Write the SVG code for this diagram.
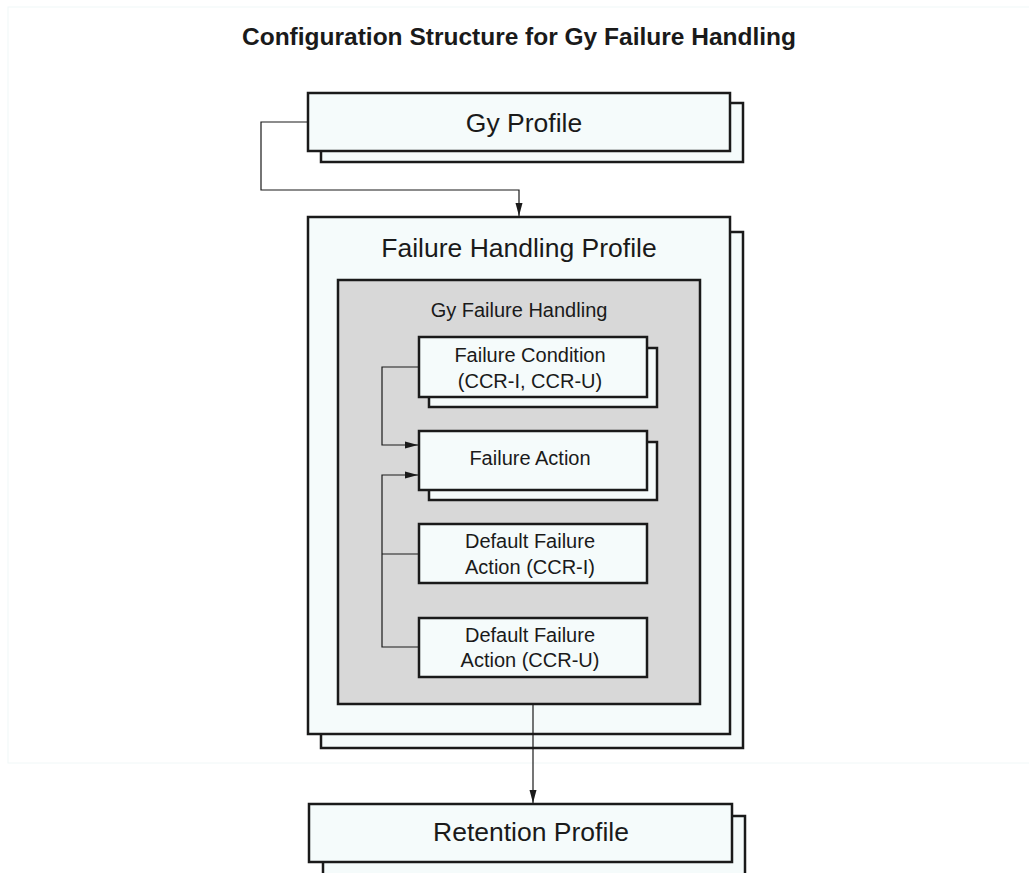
<svg xmlns="http://www.w3.org/2000/svg" width="1029" height="873" viewBox="0 0 1029 873">
<style>
.box{fill:#f5fbfb;stroke:#1a1a1a;stroke-width:2.5}
.gray{fill:#d8d8d8;stroke:#1a1a1a;stroke-width:2.5}
.t{font-family:"Liberation Sans",Arial,sans-serif;fill:#1a1a1a;text-anchor:middle}
.big{font-size:26.5px}
.small{font-size:20px}
.conn{fill:none;stroke:#1a1a1a;stroke-width:1.2}
</style>
<defs>
<marker id="arr" viewBox="0 0 13 8" refX="13" refY="4" markerWidth="13" markerHeight="8" markerUnits="userSpaceOnUse" orient="auto">
<path d="M0,0.5 L13,4 L0,7.5 z" fill="#1a1a1a"/>
</marker>
</defs>
<rect x="8" y="7" width="1025" height="756" fill="#ffffff" stroke="#f0f7f7" stroke-width="1"/>
<text class="t" x="519" y="45" font-size="24.5" font-weight="bold" fill="#111">Configuration Structure for Gy Failure Handling</text>

<g id="gy-profile">
<rect class="box" x="321" y="103" width="422" height="59"/>
<rect class="box" x="308" y="93" width="422" height="58"/>
<text class="t big" x="524" y="132">Gy Profile</text>
</g>

<g id="failure-handling-profile">
<rect class="box" x="321" y="232" width="422" height="516"/>
<rect class="box" x="308" y="217" width="422" height="517"/>
<text class="t big" x="519" y="257">Failure Handling Profile</text>
</g>

<g id="gy-failure-handling">
<rect class="gray" x="338" y="280" width="362" height="424"/>
<text class="t small" x="519" y="317">Gy Failure Handling</text>
</g>

<g id="failure-condition">
<rect class="box" x="429" y="348" width="228" height="59"/>
<rect class="box" x="419" y="337" width="228" height="60"/>
<text class="t small" x="530" y="362">Failure Condition</text>
<text class="t small" x="530" y="388">(CCR-I, CCR-U)</text>
</g>

<g id="failure-action">
<rect class="box" x="429" y="442" width="228" height="58"/>
<rect class="box" x="419" y="431" width="228" height="59"/>
<text class="t small" x="530" y="465">Failure Action</text>
</g>

<g id="default-ccr-i">
<rect class="box" x="419" y="524" width="228" height="59"/>
<text class="t small" x="530" y="548">Default Failure</text>
<text class="t small" x="530" y="574">Action (CCR-I)</text>
</g>

<g id="default-ccr-u">
<rect class="box" x="419" y="618" width="228" height="59"/>
<text class="t small" x="530" y="642">Default Failure</text>
<text class="t small" x="530" y="667">Action (CCR-U)</text>
</g>

<g id="retention-profile">
<rect class="box" x="323" y="816" width="422" height="70"/>
<rect class="box" x="309" y="804" width="423" height="58"/>
<text class="t big" x="531" y="841">Retention Profile</text>
</g>

<g id="connectors">
<path class="conn" d="M308,122 H261 V190 H519 V216" marker-end="url(#arr)"/>
<path class="conn" d="M419,367 H382 V445 H418" marker-end="url(#arr)"/>
<path class="conn" d="M419,647 H382 V475 H418" marker-end="url(#arr)"/>
<path class="conn" d="M419,554 H382"/>
<path class="conn" d="M533,705 V803" marker-end="url(#arr)"/>
</g>
</svg>
